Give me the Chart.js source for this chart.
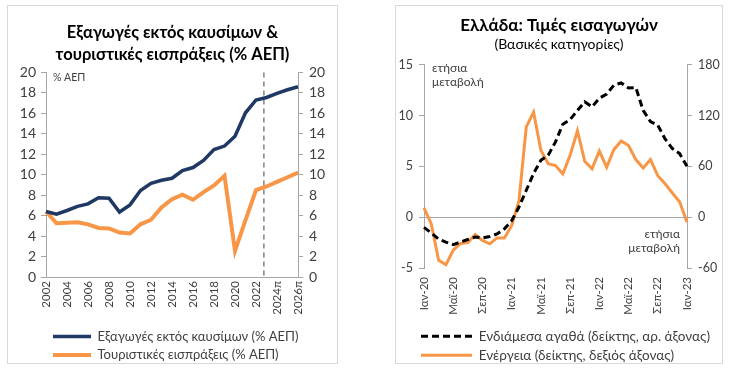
<!DOCTYPE html>
<html lang="el">
<head>
<meta charset="UTF-8">
<title>Εξαγωγές και τιμές εισαγωγών</title>
<script src="https://cdn.jsdelivr.net/npm/chart.js"></script>
<style>
  body { margin: 0; background: #fff; }
  .panel { position: absolute; top: 5px; height: 357px; border: 1px solid #d9d9d9; }
  #left { left: 7px; width: 329px; }
  #right { left: 395px; width: 326px; }
</style>
</head>
<body>
<div class="panel" id="left"><canvas id="exportsChart"></canvas></div>
<div class="panel" id="right"><canvas id="importsChart"></canvas></div>
<script>
// αριστερό γράφημα: % ΑΕΠ
const years = ['2002','2003','2004','2005','2006','2007','2008','2009','2010','2011','2012','2013','2014',
               '2015','2016','2017','2018','2019','2020','2021','2022','2023','2024π','2025π','2026π'];
const exportsNonFuel = [6.4, 6.15, 6.5, 6.9, 7.15, 7.75, 7.7, 6.35, 7.05, 8.45, 9.15, 9.45, 9.65,
                        10.4, 10.7, 11.4, 12.45, 12.8, 13.75, 16.05, 17.3, 17.55, 17.95, 18.3, 18.6];
const tourismReceipts = [6.4, 5.25, 5.3, 5.35, 5.15, 4.8, 4.75, 4.35, 4.25, 5.15, 5.6, 6.8, 7.6,
                         8.05, 7.55, 8.3, 8.95, 9.9, 2.55, 5.55, 8.5, 8.85, 9.3, 9.75, 10.2];
const forecastLineAt = 20.75; // διακεκομμένη γραμμή πριν τις προβλέψεις

// δεξί γράφημα: ετήσια μεταβολή
const months = ['Ιαν-20','Φεβ-20','Μαρ-20','Απρ-20','Μαϊ-20','Ιουν-20','Ιουλ-20','Αυγ-20','Σεπ-20','Οκτ-20','Νοε-20','Δεκ-20',
                'Ιαν-21','Φεβ-21','Μαρ-21','Απρ-21','Μαϊ-21','Ιουν-21','Ιουλ-21','Αυγ-21','Σεπ-21','Οκτ-21','Νοε-21','Δεκ-21',
                'Ιαν-22','Φεβ-22','Μαρ-22','Απρ-22','Μαϊ-22','Ιουν-22','Ιουλ-22','Αυγ-22','Σεπ-22','Οκτ-22','Νοε-22','Δεκ-22',
                'Ιαν-23'];
const intermediateGoods = [-1.0, -1.55, -2.15, -2.45, -2.7, -2.45, -2.2, -1.95, -2.05, -1.9, -1.65, -1.15,
                           -0.35, 1.0, 2.65, 4.3, 5.6, 6.1, 7.4, 9.15, 9.6, 10.5, 11.35, 10.85,
                           11.7, 12.1, 13.0, 13.2, 12.7, 12.75, 10.5, 9.4, 9.05, 7.7, 6.75, 6.25, 5.0];
const energy = [11, -8, -51, -56, -39, -31, -30, -20.5, -27.5, -31.5, -24.5, -24.5,
                -10, 19.5, 106.5, 124, 79, 63, 61, 51, 73, 102, 66, 57,
                78, 59, 80, 90, 84.5, 68, 58, 68, 49, 39.5, 28.5, 18, -6];

const fontFamily = 'Lato, "Noto Sans", sans-serif';
Chart.defaults.font.family = fontFamily;
Chart.defaults.color = '#404040';
const axisGrey = '#a6a6a6';

// δείγματα γραμμών στο υπόμνημα με το ίδιο πάχος και διακοπή με τη σειρά
function lineLegendLabels(chart) {
    const items = Chart.defaults.plugins.legend.labels.generateLabels(chart);
    items.forEach(item => {
        const ds = chart.data.datasets[item.datasetIndex];
        item.lineDash = ds.borderDash || [];
        item.lineWidth = ds.borderWidth;
        item.strokeStyle = ds.borderColor;
    });
    return items;
}

// κείμενα, γραμμή και θέση υπομνήματος
const leftExtras = {
    id: 'leftExtras',
    afterLayout(chart) {
        chart.legend.left = 45 - 5.5;
        chart.legend.top = chart.chartArea.bottom + 47.5;
    },
    beforeDatasetsDraw(chart) {
        const ctx = chart.ctx, area = chart.chartArea;
        const x = chart.scales.x.getPixelForValue(forecastLineAt);
        ctx.save();
        ctx.strokeStyle = '#808080';
        ctx.lineWidth = 1.5;
        ctx.setLineDash([5, 4]);
        ctx.beginPath();
        ctx.moveTo(x, area.top);
        ctx.lineTo(x, area.bottom);
        ctx.stroke();
        ctx.setLineDash([]);
        ctx.fillStyle = '#404040';
        ctx.font = '10.5px ' + fontFamily;
        ctx.textBaseline = 'middle';
        ctx.fillText('% ΑΕΠ', area.left + 7, area.top + 5);
        ctx.restore();
    }
};

const rightExtras = {
    id: 'rightExtras',
    afterLayout(chart) {
        chart.legend.left = 25 - 5.5;
        chart.legend.top = chart.chartArea.bottom + 56;
    },
    afterDatasetsDraw(chart) {
        const ctx = chart.ctx, area = chart.chartArea;
        const y = chart.scales.y.getPixelForValue(-1.7);
        ctx.save();
        ctx.fillStyle = '#404040';
        ctx.font = '12px ' + fontFamily;
        ctx.textBaseline = 'middle';
        ctx.textAlign = 'left';
        ctx.fillText('ετήσια', area.left + 8, area.top + 3);
        ctx.fillText('μεταβολή', area.left + 8, area.top + 17);
        ctx.textAlign = 'right';
        ctx.fillText('ετήσια', area.right - 7, y);
        ctx.fillText('μεταβολή', area.right - 7, y + 14);
        ctx.restore();
    }
};

new Chart(document.getElementById('exportsChart'), {
    type: 'line',
    data: {
        labels: years,
        datasets: [
            { label: 'Εξαγωγές εκτός καυσίμων (% ΑΕΠ)', data: exportsNonFuel, borderColor: '#1f3864',
              backgroundColor: '#1f3864', borderWidth: 3.5, pointRadius: 0, tension: 0 },
            { label: 'Τουριστικές εισπράξεις (% ΑΕΠ)', data: tourismReceipts, borderColor: '#f79646',
              backgroundColor: '#f79646', borderWidth: 4, pointRadius: 0, tension: 0 }
        ]
    },
    options: {
        responsive: true,
        maintainAspectRatio: false,
        animation: false,
        layout: { padding: 0 },
        plugins: {
            title: {
                display: true,
                text: ['Εξαγωγές εκτός καυσίμων &', 'τουριστικές εισπράξεις (% ΑΕΠ)'],
                color: '#000',
                font: { size: 16.5, weight: 'bold', lineHeight: 1.33 },
                padding: { top: 16, bottom: 6.5 }
            },
            legend: {
                position: 'bottom',
                align: 'start',
                labels: { usePointStyle: true, pointStyle: 'line', pointStyleWidth: 38, padding: 5.5,
                          font: { size: 13 }, color: '#404040', generateLabels: lineLegendLabels }
            },
            tooltip: { enabled: false }
        },
        scales: {
            x: {
                grid: { drawOnChartArea: false, drawTicks: false },
                border: { color: axisGrey },
                ticks: { autoSkip: false, maxRotation: 90, minRotation: 90, padding: 4,
                         font: { size: 11.5 },
                         callback: (v, i) => i % 2 === 0 ? years[i] : '' },
                afterFit: s => { s.height = 39; }
            },
            y: {
                min: 0, max: 20,
                ticks: { stepSize: 2, padding: 5, font: { size: 14 } },
                grid: { drawOnChartArea: false, tickLength: 5, tickColor: axisGrey },
                border: { color: axisGrey },
                afterFit: s => { s.width = 38; }
            },
            y1: {
                display: true,
                position: 'right',
                min: 0, max: 20,
                ticks: { stepSize: 2, padding: 6, font: { size: 14 } },
                grid: { drawOnChartArea: false, tickLength: 5, tickColor: axisGrey },
                border: { color: axisGrey },
                afterFit: s => { s.width = 39; }
            }
        }
    },
    plugins: [leftExtras]
});

new Chart(document.getElementById('importsChart'), {
    type: 'line',
    data: {
        labels: months,
        datasets: [
            { label: 'Ενδιάμεσα αγαθά (δείκτης, αρ. άξονας)', data: intermediateGoods, yAxisID: 'y',
              borderColor: '#000', backgroundColor: '#000', borderWidth: 3, borderDash: [7, 4],
              pointRadius: 0, tension: 0 },
            { label: 'Ενέργεια (δείκτης, δεξιός άξονας)', data: energy, yAxisID: 'y1',
              borderColor: '#f79646', backgroundColor: '#f79646', borderWidth: 3,
              pointRadius: 0, tension: 0 }
        ]
    },
    options: {
        responsive: true,
        maintainAspectRatio: false,
        animation: false,
        layout: { padding: 0 },
        plugins: {
            title: {
                display: true,
                text: 'Ελλάδα: Τιμές εισαγωγών',
                color: '#000',
                font: { size: 17, weight: 'bold', lineHeight: 1.2 },
                padding: { top: 9, bottom: 1 }
            },
            subtitle: {
                display: true,
                text: '(Βασικές κατηγορίες)',
                color: '#000',
                font: { size: 14, lineHeight: 1.2 },
                padding: { top: 0, bottom: 11.5 }
            },
            legend: {
                position: 'bottom',
                align: 'start',
                labels: { usePointStyle: true, pointStyle: 'line', pointStyleWidth: 51, padding: 5.5,
                          font: { size: 13.5 }, color: '#404040', generateLabels: lineLegendLabels }
            },
            tooltip: { enabled: false }
        },
        scales: {
            x: {
                grid: { display: false, drawTicks: false },
                border: { display: false },
                ticks: { autoSkip: false, maxRotation: 90, minRotation: 90, padding: 9,
                         font: { size: 11.5 },
                         callback: (v, i) => i % 4 === 0 ? months[i] : '' },
                afterFit: s => { s.height = 47; }
            },
            y: {
                min: -5, max: 15,
                ticks: { stepSize: 5, padding: 6, font: { size: 12.5 } },
                grid: { tickLength: 5, tickColor: axisGrey,
                        color: c => c.tick && c.tick.value === 0 ? axisGrey : 'rgba(0,0,0,0)' },
                border: { color: axisGrey },
                afterFit: s => { s.width = 28; }
            },
            y1: {
                position: 'right',
                min: -60, max: 180,
                ticks: { stepSize: 60, padding: 6, font: { size: 12.5 } },
                grid: { drawOnChartArea: false, tickLength: 5, tickColor: axisGrey },
                border: { color: axisGrey },
                afterFit: s => { s.width = 35; }
            }
        }
    },
    plugins: [rightExtras]
});
</script>
</body>
</html>
